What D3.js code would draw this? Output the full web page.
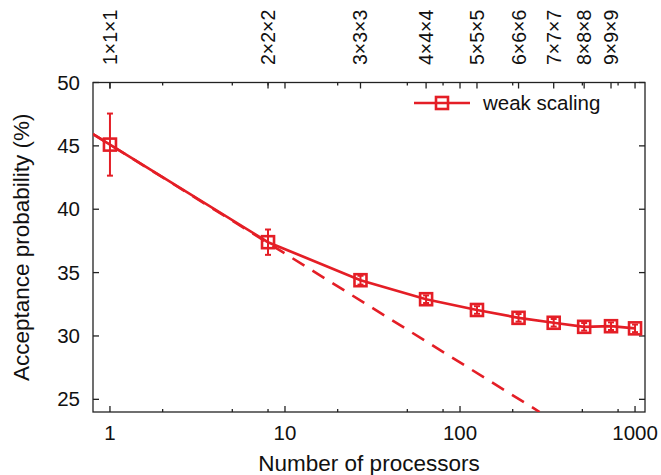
<!DOCTYPE html>
<html>
<head>
<meta charset="utf-8">
<script src="https://cdn.jsdelivr.net/npm/d3@7/dist/d3.min.js"></script>
<style>
  body { margin: 0; background: #fff; }
  text { font-family: "Liberation Sans", Arial, Helvetica, sans-serif; fill: #111; }
</style>
</head>
<body>
<svg id="chart" width="661" height="475"></svg>
<script>
// data
var procs = [1, 8, 27, 64, 125, 216, 343, 512, 729, 1000];
var accept = [45.1, 37.4, 34.4, 32.9, 32.05, 31.43, 31.04, 30.72, 30.77, 30.6];
var errs = [2.45, 1.0, 0.35, 0.3, 0.3, 0.3, 0.3, 0.3, 0.3, 0.3];
var cubeLabels = ["1\u00d71\u00d71", "2\u00d72\u00d72", "3\u00d73\u00d73", "4\u00d74\u00d74", "5\u00d75\u00d75",
                  "6\u00d76\u00d76", "7\u00d77\u00d77", "8\u00d78\u00d78", "9\u00d79\u00d79"];
var cubeTicks = [1, 8, 27, 64, 125, 216, 343, 512, 729];
// solid curve continues to the left border
var leftX = 0.8, leftY = 45.93;
// ideal (log-linear) extrapolation, dashed
var dashX = [0.8, 285];
var dashY = [45.93, 24];
var xMajor = [1, 10, 100, 1000];
var xMinor = [2, 5, 8, 20, 50, 80, 200, 500, 800];
var yTicks = [25, 30, 35, 40, 45, 50];

var red = "#e41e26";
var svg = d3.select("#chart");
var L = 93, R = 645, T = 82.5, B = 412;

var x = d3.scaleLog().domain([0.8, 1140]).range([L, R]);
var y = d3.scaleLinear().domain([24, 50]).range([B, T]);

svg.append("defs").append("clipPath").attr("id", "clip")
  .append("rect").attr("x", L).attr("y", T).attr("width", R - L).attr("height", B - T);

var frame = svg.append("g").attr("stroke", "#222").attr("stroke-width", 1.3);

// ticks, all pointing inward
function vtick(v, len, top) {
  frame.append("line")
    .attr("x1", x(v)).attr("x2", x(v))
    .attr("y1", top ? T : B).attr("y2", top ? T + len : B - len);
}
xMajor.forEach(function (v) { vtick(v, 6, false); vtick(v, 6, true); });
xMinor.forEach(function (v) { vtick(v, 3, false); vtick(v, 3, true); });
cubeTicks.forEach(function (v) { vtick(v, 6, true); });
yTicks.forEach(function (v) {
  frame.append("line").attr("x1", L).attr("x2", L + 6).attr("y1", y(v)).attr("y2", y(v));
  frame.append("line").attr("x1", R).attr("x2", R - 6).attr("y1", y(v)).attr("y2", y(v));
});

frame.append("rect").attr("x", L).attr("y", T).attr("width", R - L).attr("height", B - T)
  .attr("fill", "none");

// tick labels
svg.selectAll(".xl").data(xMajor).enter().append("text")
  .attr("x", function (d) { return x(d); }).attr("y", 440)
  .attr("text-anchor", "middle").attr("font-size", 20.5)
  .text(function (d) { return d; });

svg.selectAll(".yl").data(yTicks).enter().append("text")
  .attr("x", L - 13).attr("y", function (d) { return y(d) + 7; })
  .attr("text-anchor", "end").attr("font-size", 20.5)
  .text(function (d) { return d; });

svg.selectAll(".cl").data(cubeTicks).enter().append("text")
  .attr("transform", function (d) { return "translate(" + (x(d) + 7) + ",65) rotate(-90)"; })
  .attr("text-anchor", "start").attr("font-size", 19.5)
  .text(function (d, i) { return cubeLabels[i]; });

// axis titles
svg.append("text").attr("x", (L + R) / 2).attr("y", 471)
  .attr("text-anchor", "middle").attr("font-size", 22.5).text("Number of processors");
svg.append("text").attr("transform", "translate(29," + ((T + B) / 2) + ") rotate(-90)")
  .attr("text-anchor", "middle").attr("font-size", 22.5).text("Acceptance probability (%)");

var plot = svg.append("g").attr("clip-path", "url(#clip)");

// dashed extrapolation
var dash = d3.line().x(function (d) { return x(d[0]); }).y(function (d) { return y(d[1]); });
plot.append("path")
  .attr("d", dash(d3.zip(dashX, dashY)))
  .attr("fill", "none").attr("stroke", red).attr("stroke-width", 2.6)
  .attr("stroke-dasharray", "14,9.5");

// solid line through the measurements
var pts = [[leftX, leftY]].concat(d3.zip(procs, accept));
plot.append("path")
  .attr("d", dash(pts))
  .attr("fill", "none").attr("stroke", red).attr("stroke-width", 2.7);

// error bars
var eb = svg.append("g").attr("stroke", red).attr("stroke-width", 2);
procs.forEach(function (p, i) {
  var cx = x(p), y0 = y(accept[i] - errs[i]), y1 = y(accept[i] + errs[i]);
  eb.append("line").attr("x1", cx).attr("x2", cx).attr("y1", y0).attr("y2", y1);
  eb.append("line").attr("x1", cx - 3).attr("x2", cx + 3).attr("y1", y0).attr("y2", y0);
  eb.append("line").attr("x1", cx - 3).attr("x2", cx + 3).attr("y1", y1).attr("y2", y1);
});

// markers
svg.selectAll(".mk").data(procs).enter().append("rect")
  .attr("x", function (d) { return x(d) - 6; })
  .attr("y", function (d, i) { return y(accept[i]) - 6; })
  .attr("width", 12).attr("height", 12)
  .attr("fill", "none").attr("stroke", red).attr("stroke-width", 2.6);

// legend
var lg = svg.append("g");
lg.append("line").attr("x1", 414).attr("x2", 470).attr("y1", 103).attr("y2", 103)
  .attr("stroke", red).attr("stroke-width", 2.6);
lg.append("rect").attr("x", 436).attr("y", 97).attr("width", 12).attr("height", 12)
  .attr("fill", "none").attr("stroke", red).attr("stroke-width", 2.6);
lg.append("text").attr("x", 483).attr("y", 110).attr("font-size", 20.5).text("weak scaling");
</script>
</body>
</html>
